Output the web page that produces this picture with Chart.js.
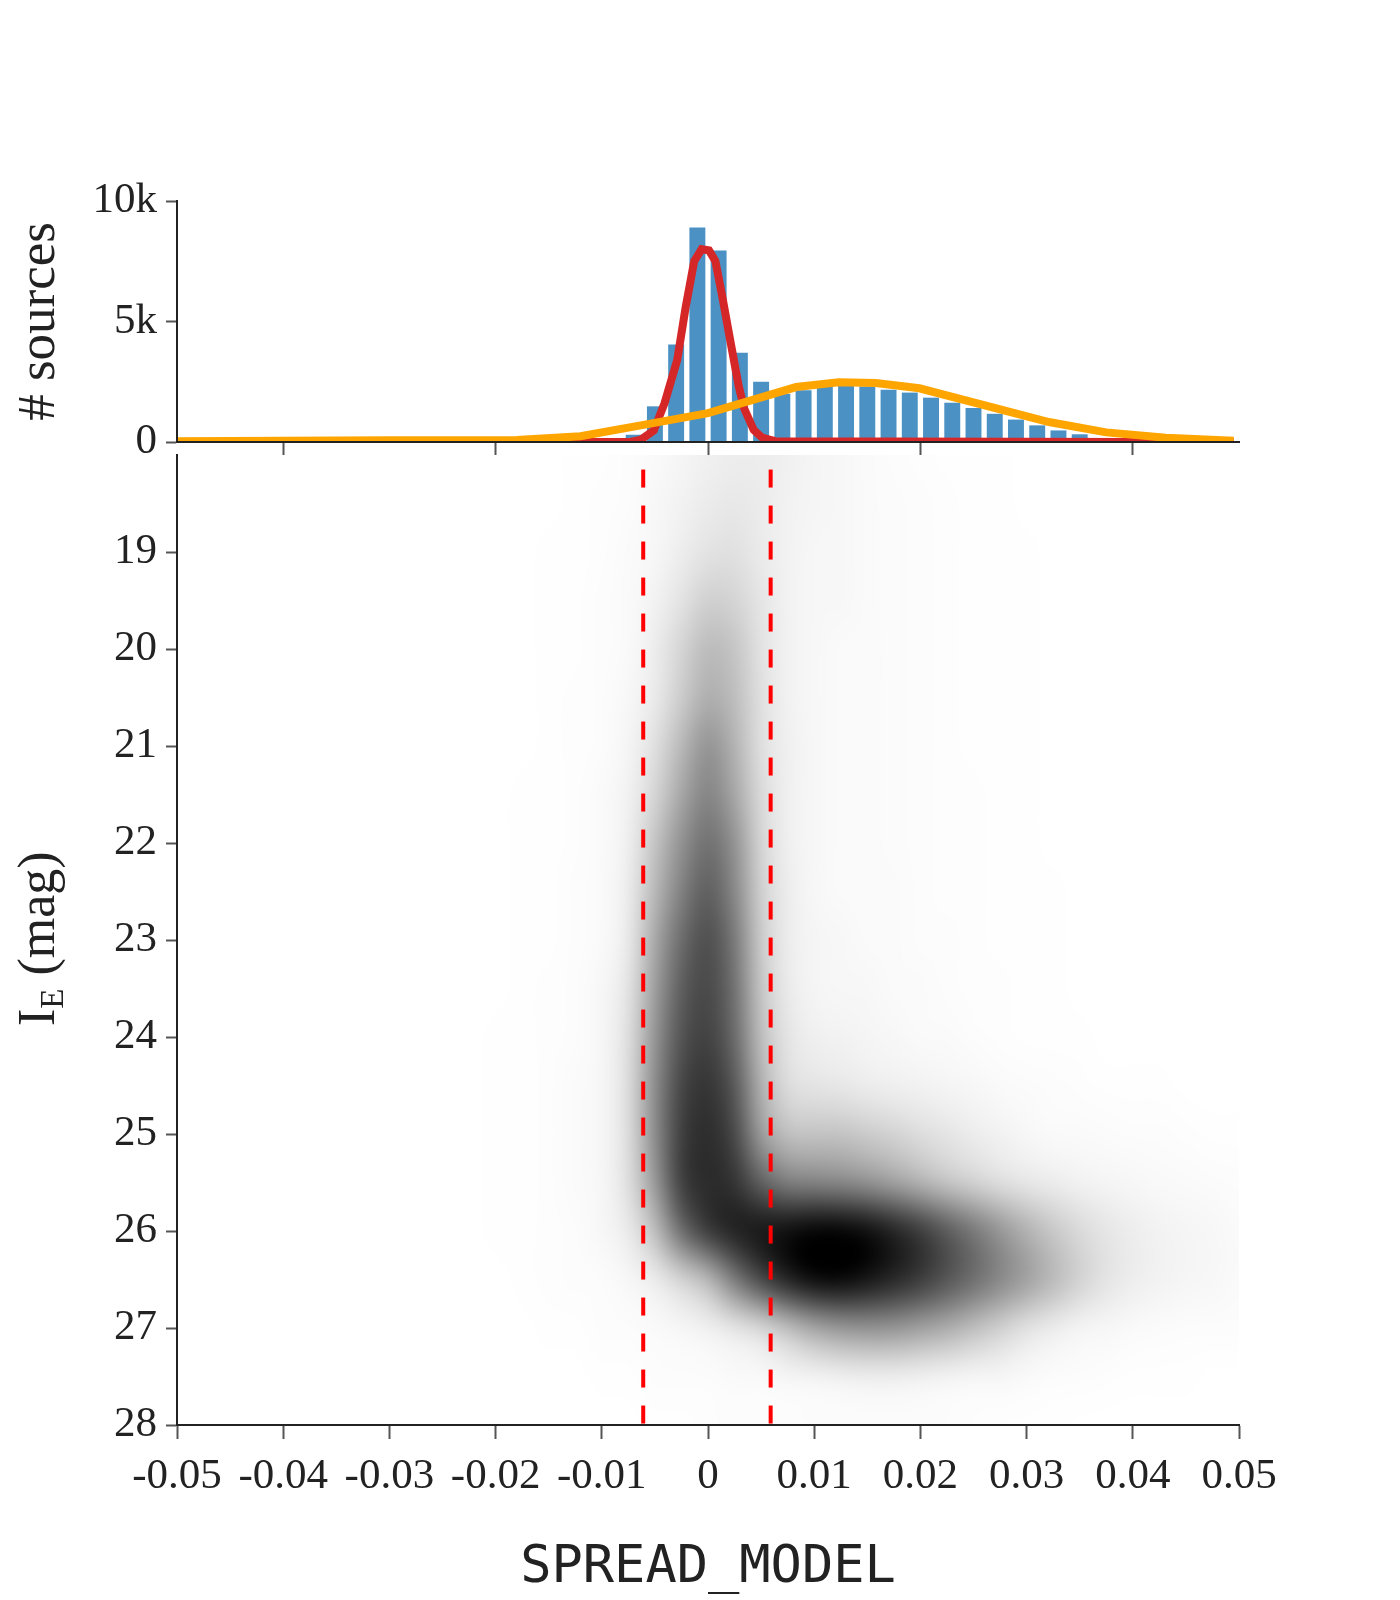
<!DOCTYPE html>
<html>
<head>
<meta charset="utf-8">
<script src="https://cdn.jsdelivr.net/npm/chart.js@4"></script>
<style>
  body { margin: 0; background: #fff; }
  #page { position: relative; width: 1400px; height: 1600px; overflow: hidden; }
  canvas { position: absolute; left: 0; }
</style>
</head>
<body>
<div id="page">
  <canvas id="hist" width="1400" height="500" style="top:0"></canvas>
  <canvas id="map" width="1400" height="1200" style="top:400px"></canvas>
</div>
<script>
// histogram of SPREAD_MODEL
const binCenters = [-0.007, -0.005, -0.003, -0.001, 0.001, 0.003, 0.005, 0.007, 0.009, 0.011, 0.013, 0.015, 0.017, 0.019, 0.021, 0.023, 0.025, 0.027, 0.029, 0.031, 0.033, 0.035, 0.037, 0.039];
const binCounts = [300, 1480, 4050, 8900, 7950, 3700, 2500, 2000, 2150, 2300, 2320, 2300, 2170, 2050, 1840, 1630, 1410, 1170, 930, 690, 480, 320, 150, 50];

// fitted curves
const redX = [-0.05, -0.018, -0.0072, -0.0063, -0.0051, -0.0041, -0.0029, -0.0021, -0.0013, -0.0006, 0.0001, 0.0007, 0.0014, 0.0021, 0.0029, 0.0034, 0.0043, 0.0051, 0.0064, 0.04, 0.0495];
const redY = [0, 5, 10, 100, 480, 1600, 3400, 5600, 7500, 8000, 7950, 7500, 5900, 4200, 2300, 1400, 500, 180, 30, 5, 0];
const orangeX = [-0.05, -0.04, -0.03, -0.018, -0.012, -0.0062, 0, 0.0083, 0.0123, 0.0158, 0.0199, 0.0321, 0.0375, 0.0431, 0.0495];
const orangeY = [30, 50, 70, 80, 240, 700, 1200, 2280, 2480, 2450, 2230, 830, 400, 180, 50];

// star / galaxy cuts
const cutX = [-0.0061, 0.0059];
const cutTop = 18.15;
const cutBottom = 28;

// density map, darkness in percent, rows are magnitudes
const heatX = [-0.0225, -0.02, -0.0175, -0.015, -0.0125, -0.01, -0.0075, -0.005, -0.0025, 0, 0.0025, 0.005, 0.0075, 0.01, 0.0125, 0.015, 0.0175, 0.02, 0.0225, 0.025, 0.0275, 0.03, 0.0325, 0.035, 0.0375, 0.04, 0.0425, 0.045, 0.0475, 0.05];
const heatMag = [18, 18.5, 19, 19.5, 20, 20.5, 21, 21.5, 22, 22.5, 23, 23.5, 24, 24.5, 25, 25.5, 26, 26.5, 27, 27.5, 28];
const heatValues = [
  [0,0,0,0,0.2,0.4,1,2,4,6,7,7,6,4,3,2,1,0.8,0.5,0.3,0.2,0,0,0,0,0,0,0,0,0],
  [0,0,0,0,0.3,0.6,1,3,5,8,9,8,5,4,3,2,1.5,1,0.6,0.4,0.2,0.1,0,0,0,0,0,0,0,0],
  [0,0,0,0.2,0.4,0.8,2,3,7,11,12,8,5,3,3,2,1.5,1,0.7,0.4,0.3,0.2,0,0,0,0,0,0,0,0],
  [0,0,0,0.2,0.4,1,2,5,11,19,17,10,5,3,3,2,1.5,1,0.7,0.5,0.3,0.2,0.1,0,0,0,0,0,0,0],
  [0,0,0.1,0.2,0.5,1,2,7,17,27,23,11,5,3,2,2,1.5,1,0.8,0.5,0.3,0.2,0.1,0,0,0,0,0,0,0],
  [0,0,0.1,0.3,0.6,1,3,8,20,32,26,12,5,3,2,2,1.5,1,0.8,0.5,0.3,0.2,0.1,0,0,0,0,0,0,0],
  [0,0,0.1,0.3,0.7,1,4,12,28,43,30,12,6,3,2,2,1.5,1,0.8,0.5,0.4,0.2,0.1,0,0,0,0,0,0,0],
  [0,0,0.2,0.4,0.8,2,5,16,35,49,35,14,6,3,2,2,1.5,1,0.8,0.6,0.4,0.2,0.1,0,0,0,0,0,0,0],
  [0,0.1,0.2,0.4,0.9,2,6,23,43,57,43,16,6,3,2,2,1.5,1,0.8,0.6,0.4,0.3,0.1,0,0,0,0,0,0,0],
  [0,0.1,0.2,0.5,1,2,7,28,50,64,47,18,7,3,2,2,2,1,0.9,0.6,0.4,0.3,0.2,0.1,0,0,0,0,0,0],
  [0,0.1,0.3,0.5,1,2,8,34,58,70,53,20,7,4,3,2,2,1.2,1,0.7,0.5,0.3,0.2,0.1,0,0,0,0,0,0],
  [0,0.1,0.3,0.6,1,3,10,38,64,72,56,22,8,4,3,3,2,2,1,0.8,0.6,0.4,0.2,0.1,0,0,0,0,0,0],
  [0,0.2,0.4,0.7,1,3,12,42,68,75,59,25,10,6,5,4,3,2,2,1,0.8,0.5,0.3,0.2,0.1,0,0,0,0,0],
  [0,0.2,0.4,0.8,2,3,13,45,73,80,66,30,13,10,9,7,6,5,4,3,2,1.5,1,0.7,0.5,0.3,0.2,0.1,0,0],
  [0,0.2,0.4,0.8,2,3,13,45,76,83,72,38,24,23,23,20,17,13,10,7,5,3,2,2,1.5,1,1,0.7,0.5,0.3],
  [0,0.2,0.4,0.8,2,3,12,40,76,84,80,62,50,48,46,42,36,29,22,17,12,9,7,5,4,3,2.5,2,1.5,1],
  [0,0.2,0.4,0.8,1,3,8,25,58,78,88,92,96,100,100,96,88,78,66,54,42,31,22,15,10,7,5,4,3,2],
  [0,0.1,0.3,0.6,1,1,3,7,16,27,52,73,88,97,98,93,86,78,68,58,48,38,28,18,11,7,5,4,3,2],
  [0,0,0.1,0.3,0.5,1,1,2,3,5,9,14,24,34,40,42,41,37,32,25,18,11,7,4,3,2,1.5,1,1,1],
  [0,0,0,0,0.1,0.2,0.4,1,1,1,2,2,3,4,5,6,6,5,4,3,3,2,1,1,0.7,0.5,0.3,0.2,0.1,0],
  [0,0,0,0,0,0,0.1,0.2,0.4,0.6,1,1,1,1,1,1,1,1,1,0.7,0.5,0.3,0.2,0.1,0,0,0,0,0,0]
];

// ticks
const histXTicks = [-0.04, -0.02, 0, 0.02, 0.04];
const histYTicks = [0, 5000, 10000];
const histYLabels = ['0', '5k', '10k'];
const mapXTicks = [-0.05, -0.04, -0.03, -0.02, -0.01, 0, 0.01, 0.02, 0.03, 0.04, 0.05];
const mapXLabels = ['-0.05', '-0.04', '-0.03', '-0.02', '-0.01', '0', '0.01', '0.02', '0.03', '0.04', '0.05'];
const mapYTicks = [19, 20, 21, 22, 23, 24, 25, 26, 27, 28];

const SERIF = '"Liberation Serif", serif';
const TEXT = '#222';
const MAP_TOP = 400;

function toPoints(xs, ys) {
  return xs.map((x, i) => ({ x: x, y: ys[i] }));
}

function setTicks(values) {
  return function (scale) {
    scale.ticks = values.map(v => ({ value: v }));
  };
}

function axisGrid(length) {
  return { drawOnChartArea: false, offset: false, tickColor: '#555', tickWidth: 2, tickLength: length };
}

// paints heatValues, placed by the chart's own scales
const heatPlugin = {
  id: 'heat',
  beforeDatasetsDraw(chart) {
    const xs = chart.scales.x, ys = chart.scales.y, area = chart.chartArea;
    const cols = heatX.length, rows = heatMag.length;
    const small = document.createElement('canvas');
    small.width = cols;
    small.height = rows;
    const sctx = small.getContext('2d');
    const img = sctx.createImageData(cols, rows);
    heatValues.forEach((row, r) => row.forEach((v, c) => {
      img.data[(r * cols + c) * 4 + 3] = Math.round(v * 2.55);
    }));
    sctx.putImageData(img, 0, 0);

    const dx = heatX[1] - heatX[0], dy = heatMag[1] - heatMag[0];
    const left = xs.getPixelForValue(heatX[0] - dx / 2);
    const right = xs.getPixelForValue(heatX[cols - 1] + dx / 2);
    const top = ys.getPixelForValue(heatMag[0] - dy / 2);
    const bottom = ys.getPixelForValue(heatMag[rows - 1] + dy / 2);

    const ctx = chart.ctx;
    ctx.save();
    ctx.beginPath();
    ctx.rect(area.left, area.top, area.width, area.height);
    ctx.clip();
    ctx.imageSmoothingEnabled = true;
    ctx.imageSmoothingQuality = 'high';
    ctx.filter = 'blur(6px)';
    ctx.drawImage(small, left, top, right - left, bottom - top);
    ctx.restore();
  }
};

// y label of the map needs a subscript
const magTitlePlugin = {
  id: 'magTitle',
  afterDraw(chart) {
    const ctx = chart.ctx;
    ctx.save();
    ctx.translate(54, 1026 - MAP_TOP);
    ctx.rotate(-Math.PI / 2);
    ctx.fillStyle = TEXT;
    ctx.textBaseline = 'alphabetic';
    ctx.textAlign = 'left';
    ctx.font = '52px ' + SERIF;
    ctx.fillText('I', 0, 0);
    let w = ctx.measureText('I').width;
    ctx.font = '33px ' + SERIF;
    ctx.fillText('E', w, 9);
    w += ctx.measureText('E').width + 13;
    ctx.font = '52px ' + SERIF;
    ctx.fillText('(mag)', w, 0);
    ctx.restore();
  }
};

new Chart(document.getElementById('hist'), {
  data: {
    datasets: [
      { type: 'line', data: toPoints(orangeX, orangeY), borderColor: '#ffa500', borderWidth: 8, pointRadius: 0, tension: 0, clip: 0, order: 1 },
      { type: 'line', data: toPoints(redX, redY), borderColor: '#d62728', borderWidth: 8, pointRadius: 0, tension: 0, clip: 0, order: 2 },
      { type: 'bar', data: toPoints(binCenters, binCounts), backgroundColor: '#4b91c3', barPercentage: 0.75, categoryPercentage: 1, order: 3 }
    ]
  },
  options: {
    responsive: false,
    animation: false,
    layout: { padding: { top: 201, right: 161, bottom: 44, left: 0 } },
    plugins: { legend: { display: false }, tooltip: { enabled: false } },
    scales: {
      x: {
        type: 'linear', min: -0.05, max: 0.05, offset: false,
        afterBuildTicks: setTicks(histXTicks),
        afterFit(scale) { scale.height = 14; },
        ticks: { display: false, autoSkip: false },
        grid: axisGrid(13),
        border: { color: '#222', width: 2, z: 1 }
      },
      y: {
        min: 0, max: 10000,
        afterBuildTicks: setTicks(histYTicks),
        afterFit(scale) { scale.width = 177; },
        ticks: {
          padding: 9, color: TEXT, font: { family: SERIF, size: 43 },
          callback: (v, i) => histYLabels[i]
        },
        grid: axisGrid(11),
        border: { color: '#222', width: 2, z: 1 },
        title: { display: true, text: '# sources', color: TEXT, font: { family: SERIF, size: 53 }, padding: { top: 8, bottom: 0 } }
      }
    }
  }
});

new Chart(document.getElementById('map'), {
  type: 'line',
  plugins: [heatPlugin, magTitlePlugin],
  data: {
    datasets: cutX.map(x => ({
      data: [{ x: x, y: cutTop }, { x: x, y: cutBottom }],
      borderColor: '#ff0000', borderWidth: 4, borderDash: [18, 18], pointRadius: 0, clip: 0
    }))
  },
  options: {
    responsive: false,
    animation: false,
    layout: { padding: { top: 55, right: 161, bottom: 0, left: 0 } },
    plugins: { legend: { display: false }, tooltip: { enabled: false } },
    scales: {
      x: {
        type: 'linear', min: -0.05, max: 0.05,
        afterBuildTicks: setTicks(mapXTicks),
        afterFit(scale) { scale.height = 175; },
        ticks: {
          autoSkip: false, maxRotation: 0, padding: 12, color: TEXT, font: { family: SERIF, size: 43 },
          callback: (v, i) => mapXLabels[i]
        },
        grid: axisGrid(14),
        border: { color: '#222', width: 2, z: 1 },
        title: { display: true, text: 'SPREAD_MODEL', color: TEXT, font: { family: '"DejaVu Sans Mono", monospace', size: 52 }, padding: { top: 3, bottom: 0 } }
      },
      y: {
        type: 'linear', reverse: true, min: 18, max: 28,
        afterBuildTicks: setTicks(mapYTicks),
        afterFit(scale) { scale.width = 177; },
        ticks: {
          autoSkip: false, padding: 9, color: TEXT, font: { family: SERIF, size: 43 },
          callback: v => String(v)
        },
        grid: axisGrid(11),
        border: { color: '#222', width: 2, z: 1 }
      }
    }
  }
});
</script>
</body>
</html>
